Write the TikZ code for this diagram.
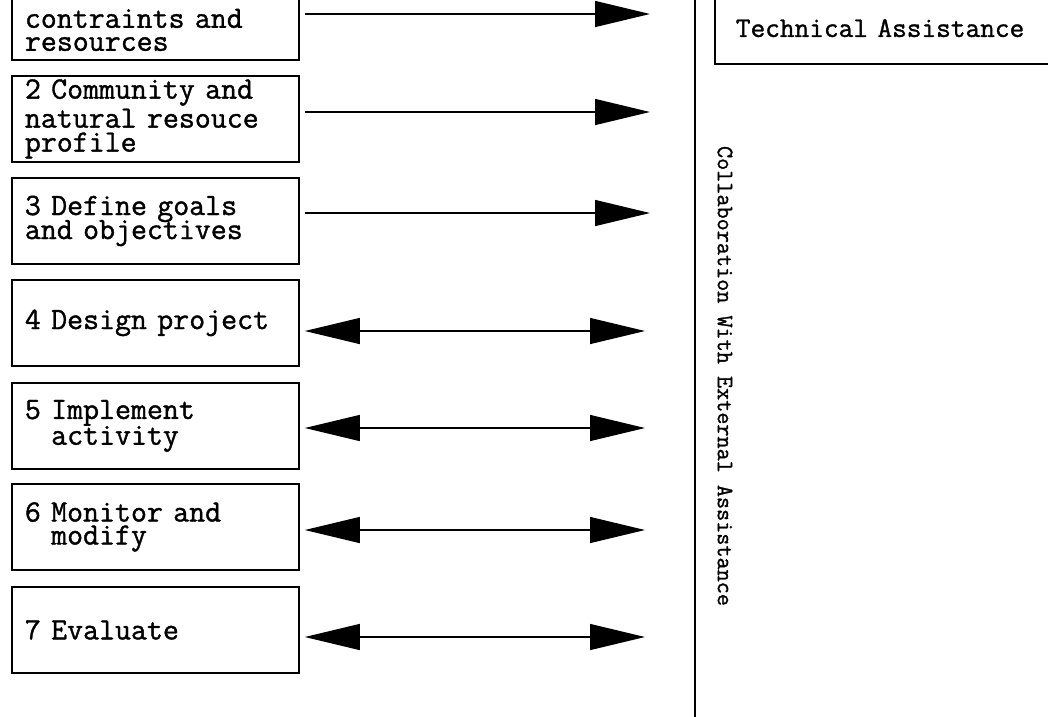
\documentclass[tikz,border=0pt]{standalone}
\usepackage{fontspec}
\newfontfamily\plotfont{Latin Modern Mono}[FakeBold=1.2]
\usetikzlibrary{arrows.meta}
\begin{document}
\begin{tikzpicture}[x=1pt,y=-1pt,
  box/.style={draw, line width=1.8pt, minimum width=287pt, minimum height=86pt,
    text width=261pt, inner xsep=13pt, align=left, anchor=north west,
    font=\plotfont\fontsize{31}{22}\selectfont},
  techbox/.style={draw, line width=1.8pt, minimum width=402pt, minimum height=72pt,
    text width=360pt, inner xsep=21pt, align=left, anchor=south west,
    font=\plotfont\fontsize{28.5}{22}\selectfont},
  vlabel/.style={rotate=-90, font=\plotfont\fontsize{23.5}{24}\selectfont},
  sep/.style={line width=1.8pt},
  arr/.style={line width=1.3pt, -{Triangle[length=55pt,width=26pt]}},
  darr/.style={line width=1.3pt, {Triangle[length=55pt,width=26pt]}-{Triangle[length=55pt,width=26pt]}}
]
\useasboundingbox (0,0) rectangle (1048,716);
\begin{scope}
\clip (0,0) rectangle (1048,716);
% boxes
\node[box] (b1) at (11,-27) {\mbox{}\\[23pt]contraints and\\[1pt]resources};
\node[box] (b2) at (11,75) {2 Community and\\[2pt]natural resouce\\[2pt]profile};
\node[box] (b3) at (11,177) {3 Define goals\\[-3pt]and objectives};
\node[box] (b4) at (11,279) {4 Design project};
\node[box] (b5) at (11,382) {5 Implement\\[-1pt]\phantom{5 }activity};
\node[box] (b6) at (11,483) {6 Monitor and\\[1pt]\phantom{6 }modify};
\node[box] (b7) at (11,586) {7 Evaluate};
% technical assistance
\node[techbox] (ta) at (714,65) {Technical Assistance};
% separator
\coordinate (vt) at (695,-10);
\coordinate (vb) at (695,726);
\draw[sep] (vt) -- (vb);
\node[vlabel] (collab) at (725,376) {Collaboration With External Assistance};
% arrow ends
\coordinate (e1) at (650,14);
\coordinate (e2) at (650,112);
\coordinate (e3) at (650,213);
\coordinate (e4) at (645,331);
\coordinate (e5) at (645,428);
\coordinate (e6) at (645,530);
\coordinate (e7) at (645,637);
\draw[arr] (b1.east |- e1) ++(5,0) -- (e1);
\draw[arr] (b2.east |- e2) ++(5,0) -- (e2);
\draw[arr] (b3.east |- e3) ++(5,0) -- (e3);
\draw[darr] (b4.east |- e4) ++(5,0) -- (e4);
\draw[darr] (b5.east |- e5) ++(5,0) -- (e5);
\draw[darr] (b6.east |- e6) ++(5,0) -- (e6);
\draw[darr] (b7.east |- e7) ++(5,0) -- (e7);
\end{scope}
\end{tikzpicture}
\end{document}
